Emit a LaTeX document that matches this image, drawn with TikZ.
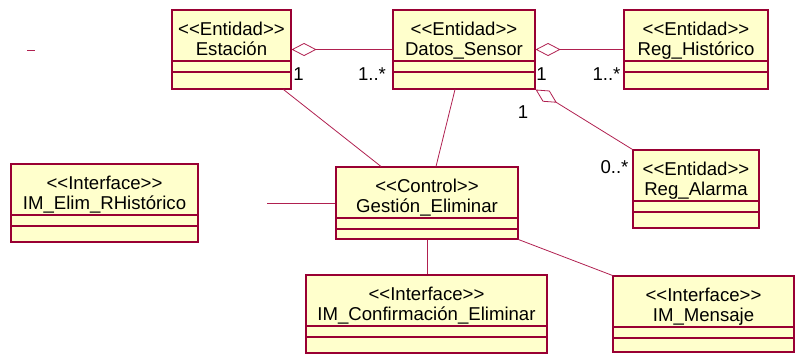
\documentclass[tikz,border=0pt]{standalone}
\usepackage{fontspec}
\newfontfamily\umlfont{Liberation Sans}
\usepackage{xcolor}
\usetikzlibrary{arrows.meta,positioning}
\definecolor{umlborder}{RGB}{153,0,51}
\definecolor{umlfill}{RGB}{255,255,204}
\definecolor{umlline}{RGB}{176,32,80}

\begin{document}
\begin{tikzpicture}[
  x=1pt, y=-1pt,
  font=\umlfont\fontsize{18.6}{20}\selectfont,
  classbox/.style={rectangle,draw=umlborder,fill=umlfill,line width=1.1pt,inner sep=0pt,
    minimum width=#1,minimum height=79pt,
    path picture={
      \draw[umlborder,line width=1.1pt] ([yshift=-51pt]path picture bounding box.north west) -- ([yshift=-51pt]path picture bounding box.north east);
      \draw[umlborder,line width=1.1pt] ([yshift=-62pt]path picture bounding box.north west) -- ([yshift=-62pt]path picture bounding box.north east);
    }},
  classname/.style={align=center,inner sep=0pt},
  assoc/.style={draw=umlline,line width=0.8pt},
  aggr/.style={assoc,{Diamond[open,length=25pt,width=13pt]}-},
  mult/.style={inner sep=0pt}
]
  \useasboundingbox (0,0) rectangle (796,360);

  % classes
  \node[classbox=119pt] (estacion) at (231.5,49.5) {};
  \node[classbox=142pt] (datos) at (464,49.5) {};
  \node[classbox=144pt] (historico) at (696,49.5) {};
  \node[classbox=126pt,minimum height=78pt] (alarma) at (696,189) {};
  \node[classbox=182pt,minimum height=72pt] (gestion) at (427,203) {};
  \node[classbox=187pt,minimum height=78pt] (elim) at (104.5,203) {};
  \node[classbox=241pt,minimum height=78pt] (confirm) at (426.5,314) {};
  \node[classbox=181pt,minimum height=76pt] (mensaje) at (703.5,314) {};

  \node[classname,below=12pt of estacion.north] (estacionname) {<<Entidad>>\\Estación};
  \node[classname,below=12pt of datos.north] (datosname) {<<Entidad>>\\Datos\_Sensor};
  \node[classname,below=12pt of historico.north] (historiconame) {<<Entidad>>\\Reg\_Histórico};
  \node[classname,below=12pt of alarma.north] (alarmaname) {<<Entidad>>\\Reg\_Alarma};
  \node[classname,below=12pt of gestion.north] (gestionname) {<<Control>>\\Gestión\_Eliminar};
  \node[classname,below=12pt of elim.north] (elimname) {<<Interface>>\\IM\_Elim\_RHistórico};
  \node[classname,below=12pt of confirm.north] (confirmname) {<<Interface>>\\IM\_Confirmación\_Eliminar};
  \node[classname,below=12pt of mensaje.north] (mensajename) {<<Interface>>\\IM\_Mensaje};

  % aggregations
  \draw[aggr] (estacion.east) -- (datos.west);
  \draw[aggr] (datos.east) -- (historico.west);
  \draw[aggr] (datos.south east) -- (alarma.north west);

  % associations
  \draw[assoc] ([xshift=52pt]estacion.south) -- ([xshift=-46pt]gestion.north);
  \draw[assoc] ([xshift=-9pt]datos.south) -- ([xshift=9pt]gestion.north);
  \draw[assoc] (gestion.south) -- (gestion.south |- confirm.north);
  \draw[assoc] (gestion.south east) -- (mensaje.north west);
  \coordinate (loose) at ([xshift=-68pt]gestion.west);
  \draw[assoc] (loose) -- (gestion.west);
  \coordinate (dashA) at (27,50);
  \coordinate (dashB) at (35,50);
  \draw[assoc] (dashA) -- (dashB);

  % multiplicities
  \node[mult] (m1) at (298.5,74) {1};
  \node[mult] (m2) at (372,74) {1..*};
  \node[mult] (m3) at (541.5,74) {1};
  \node[mult] (m4) at (606.5,74) {1..*};
  \node[mult] (m5) at (523,112) {1};
  \node[mult] (m6) at (614.5,167) {0..*};
\end{tikzpicture}
\end{document}
